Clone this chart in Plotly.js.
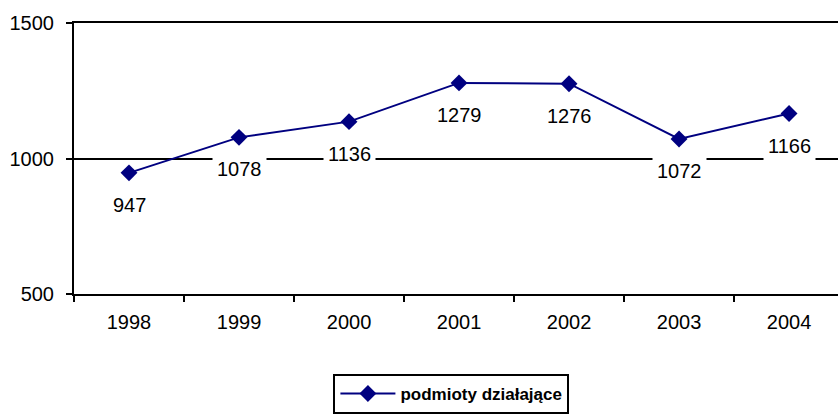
<!DOCTYPE html>
<html>
<head>
<meta charset="utf-8">
<script src="https://cdn.plot.ly/plotly-3.0.1.min.js"></script>
<style>html,body{margin:0;padding:0;background:#fff;}#chart{width:838px;height:414px;}</style>
</head>
<body>
<div id="chart"></div>
<script>
var years = ['1998','1999','2000','2001','2002','2003','2004'];
var values = [947, 1078, 1136, 1279, 1276, 1072, 1166];
var labels = ['947','1078','1136','1279','1276','1072','1166'];
var seriesName = 'podmioty działające';

var font = 'Arial, "Liberation Sans", sans-serif';
var navy = '#000080';

var trace = {
  x: years, y: values, type: 'scatter', mode: 'lines+markers', name: seriesName,
  line: {color: navy, width: 2},
  marker: {symbol: 'diamond', size: 13, color: navy}
};

var annotations = years.map(function(y, i){
  return {x: i, y: values[i], xref: 'x', yref: 'y', text: labels[i], showarrow: false,
    yshift: -32, bgcolor: '#ffffff', borderpad: 4, font: {family: font, size: 20, color: '#000000'}};
});

var layout = {
  width: 838, height: 414,
  margin: {l: 74, r: 0, t: 23, b: 120},
  paper_bgcolor: '#fff', plot_bgcolor: '#fff',
  showlegend: true,
  font: {family: font, size: 20, color: '#000'},
  xaxis: {type: 'category', range: [-0.5, 6.445], showline: true, linecolor: '#000', linewidth: 2,
    mirror: true, showgrid: false, ticks: 'outside', tickson: 'boundaries', ticklen: 6, tickwidth: 2,
    tickcolor: '#000', ticklabelstandoff: 9, tickfont: {family: font, size: 20}},
  yaxis: {range: [500, 1500], dtick: 500, tick0: 500, showline: true, linecolor: '#000', linewidth: 2,
    showgrid: true, gridcolor: '#000', gridwidth: 2, zeroline: false, ticks: 'outside', ticklen: 6,
    tickwidth: 2, tickcolor: '#000', ticklabelstandoff: 8, tickfont: {family: font, size: 20}},
  legend: {x: 0.494, xanchor: 'center', y: -0.295, yanchor: 'top', orientation: 'h',
    bordercolor: '#000', borderwidth: 2, bgcolor: '#fff', itemwidth: 55,
    font: {family: font, size: 17, weight: 'bold', color: '#000'}},
  annotations: annotations
};

Plotly.newPlot('chart', [trace], layout, {displayModeBar: false});
</script>
</body>
</html>
